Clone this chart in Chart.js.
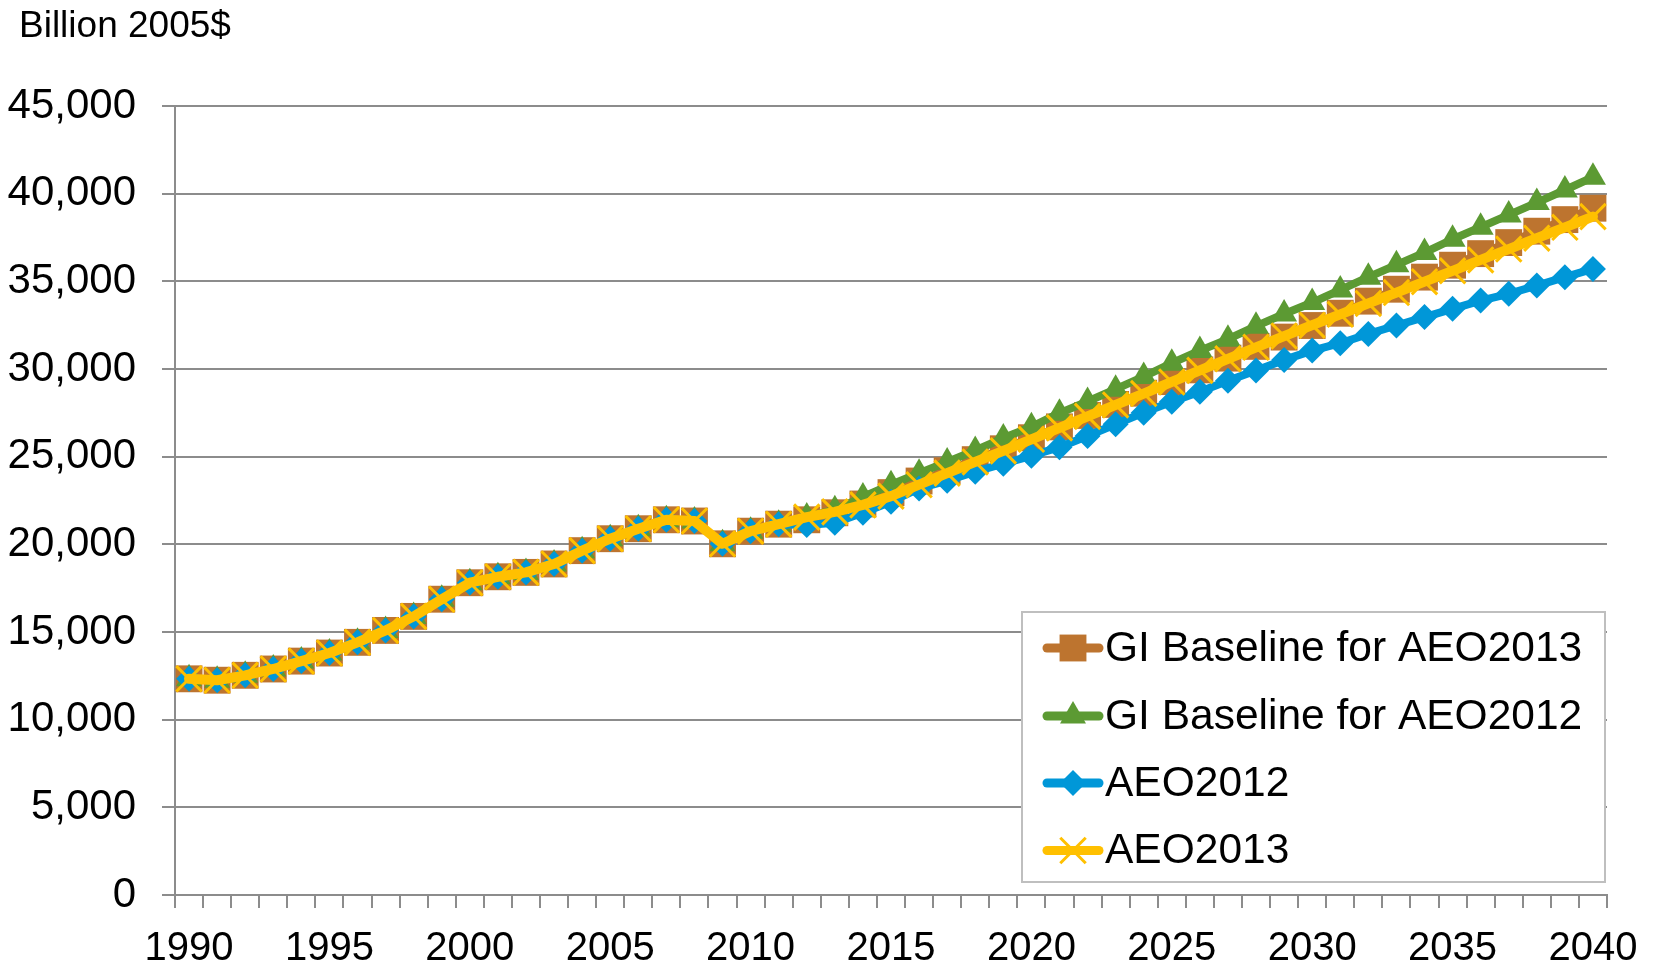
<!DOCTYPE html>
<html>
<head>
<meta charset="utf-8">
<script src="https://cdn.jsdelivr.net/npm/chart.js@4.4.0/dist/chart.umd.min.js"></script>
<style>
html,body{margin:0;padding:0;background:#fff;}
#wrap{width:1657px;height:968px;position:relative;}
</style>
</head>
<body>
<div id="wrap"><canvas id="c" width="1657" height="968"></canvas></div>
<script>
// ---- data ----
const years = [1990,1991,1992,1993,1994,1995,1996,1997,1998,1999,
               2000,2001,2002,2003,2004,2005,2006,2007,2008,2009,
               2010,2011,2012,2013,2014,2015,2016,2017,2018,2019,
               2020,2021,2022,2023,2024,2025,2026,2027,2028,2029,
               2030,2031,2032,2033,2034,2035,2036,2037,2038,2039,2040];
const labeledYears = [1990,1995,2000,2005,2010,2015,2020,2025,2030,2035,2040];
const yTickValues = [0,5000,10000,15000,20000,25000,30000,35000,40000,45000];
const unitLabel = 'Billion 2005$';
const seriesNames = ['GI Baseline for AEO2013','GI Baseline for AEO2012','AEO2012','AEO2013'];

const giBaselineAEO2013 = [12330,12250,12530,12890,13340,13800,14410,15090,15890,16870,
  17810,18150,18400,18880,19640,20320,20890,21400,21330,20030,
  20750,21150,21400,21800,22300,22950,23610,24200,24830,25450,
  26080,26700,27350,27980,28620,29280,29950,30620,31290,31820,
  32480,33180,33870,34550,35240,35920,36580,37210,37860,38520,39170];
const giBaselineAEO2012 = [12330,12250,12530,12890,13340,13800,14410,15090,15890,16870,
  17810,18150,18400,18880,19640,20320,20890,21400,21330,20030,
  20750,21150,21560,21970,22700,23400,24060,24700,25350,26060,
  26700,27480,28150,28850,29570,30330,31050,31700,32440,33140,
  33790,34510,35240,35940,36640,37400,38090,38790,39490,40210,40940];
const aeo2012 = [12330,12250,12530,12890,13340,13800,14410,15090,15890,16870,
  17810,18150,18400,18880,19640,20320,20890,21400,21330,20030,
  20750,21150,21100,21230,21800,22430,23190,23630,24140,24600,
  25050,25540,26180,26850,27510,28130,28700,29330,29920,30520,
  31050,31470,32000,32480,32960,33430,33900,34290,34760,35240,35710];
const aeo2013 = [12330,12250,12530,12890,13340,13800,14410,15090,15890,16870,
  17810,18150,18400,18880,19640,20320,20890,21400,21330,20030,
  20750,21150,21550,21850,22250,22750,23400,24060,24700,25330,
  25990,26640,27300,27950,28600,29260,29920,30580,31240,31880,
  32500,33120,33740,34360,34980,35600,36220,36840,37460,38080,38690];

// ---- styles ----
const FONT = '"Liberation Sans", Arial, Helvetica, sans-serif';
const GRID = '#8C8C8C';

function drawMarker(ctx, style, r, color, bw, x, y) {
  ctx.save();
  ctx.fillStyle = color; ctx.strokeStyle = color;
  ctx.beginPath();
  if (style === 'rect') {
    const s = Math.SQRT1_2 * r;
    ctx.rect(x - s, y - s, 2 * s, 2 * s); ctx.fill();
  } else if (style === 'rectRot') {
    ctx.moveTo(x, y - r); ctx.lineTo(x + r, y); ctx.lineTo(x, y + r); ctx.lineTo(x - r, y); ctx.closePath(); ctx.fill();
  } else if (style === 'triangle') {
    ctx.moveTo(x, y - r);
    ctx.lineTo(x + Math.sin(2*Math.PI/3) * r, y - Math.cos(2*Math.PI/3) * r);
    ctx.lineTo(x + Math.sin(4*Math.PI/3) * r, y - Math.cos(4*Math.PI/3) * r);
    ctx.closePath(); ctx.fill();
  } else if (style === 'crossRot') {
    const d = Math.SQRT1_2 * r;
    ctx.lineWidth = bw; ctx.lineCap = 'butt';
    ctx.moveTo(x - d, y - d); ctx.lineTo(x + d, y + d);
    ctx.moveTo(x - d, y + d); ctx.lineTo(x + d, y - d);
    ctx.stroke();
  }
  ctx.restore();
}

const overlay = {
  id: 'overlay',
  afterDraw(chart, args, opts) {
    const ctx = chart.ctx;
    ctx.save();
    ctx.fillStyle = '#000';
    ctx.font = '37px ' + FONT;
    ctx.textAlign = 'left';
    ctx.textBaseline = 'alphabetic';
    ctx.fillText(opts.title, 19, 37);

    const b = opts.box;
    ctx.fillStyle = '#fff';
    ctx.fillRect(b.left, b.top, b.right - b.left, b.bottom - b.top);
    ctx.strokeStyle = '#BFBFBF';
    ctx.lineWidth = 2;
    ctx.strokeRect(b.left, b.top, b.right - b.left, b.bottom - b.top);

    chart.data.datasets.forEach((ds, i) => {
      const y = opts.rows[i];
      ctx.strokeStyle = ds.borderColor;
      ctx.lineWidth = 9;
      ctx.lineCap = 'round';
      ctx.beginPath();
      ctx.moveTo(b.left + 25, y); ctx.lineTo(b.left + 77, y);
      ctx.stroke();
      drawMarker(ctx, ds.pointStyle, ds.pointRadius, ds.pointBackgroundColor, ds.pointBorderWidth, b.left + 51, y);
      ctx.fillStyle = '#000';
      ctx.font = '42.5px ' + FONT;
      ctx.textBaseline = 'middle';
      ctx.fillText(ds.label, b.left + 83, y + 1);
    });
    ctx.restore();
  }
};

const colors = ['#BD742F', '#5C9A33', '#0097D8', '#FFC000'];

new Chart(document.getElementById('c'), {
  type: 'line',
  data: {
    labels: years,
    datasets: [
      { label: seriesNames[0], data: giBaselineAEO2013, order: 3,
        borderColor: colors[0], borderWidth: 8, pointStyle: 'rect', pointRadius: 19,
        pointBackgroundColor: colors[0], pointBorderColor: colors[0], pointBorderWidth: 0 },
      { label: seriesNames[1], data: giBaselineAEO2012, order: 2,
        borderColor: colors[1], borderWidth: 8, pointStyle: 'triangle', pointRadius: 15,
        pointBackgroundColor: colors[1], pointBorderColor: colors[1], pointBorderWidth: 0 },
      { label: seriesNames[2], data: aeo2012, order: 1,
        borderColor: colors[2], borderWidth: 8, pointStyle: 'rectRot', pointRadius: 13,
        pointBackgroundColor: colors[2], pointBorderColor: colors[2], pointBorderWidth: 0 },
      { label: seriesNames[3], data: aeo2013, order: 0,
        borderColor: colors[3], borderWidth: 10, pointStyle: 'crossRot', pointRadius: 18,
        pointBackgroundColor: colors[3], pointBorderColor: colors[3], pointBorderWidth: 3 }
    ]
  },
  options: {
    responsive: false,
    animation: false,
    devicePixelRatio: 1,
    layout: { padding: { top: 106, right: 50, bottom: 0, left: 0 } },
    elements: { line: { tension: 0, borderJoinStyle: 'round', borderCapStyle: 'round' } },
    plugins: {
      legend: { display: false },
      tooltip: { enabled: false },
      overlay: {
        title: unitLabel,
        box: { left: 1022, top: 612, right: 1605, bottom: 882 },
        rows: [648, 716, 783, 850.5]
      }
    },
    scales: {
      x: {
        type: 'category',
        offset: true,
        afterFit(s) { s.height = 73; },
        grid: { offset: true, drawOnChartArea: false, drawTicks: true, tickLength: 13, color: GRID, lineWidth: 2 },
        border: { display: true, color: GRID, width: 2 },
        ticks: {
          autoSkip: false, maxRotation: 0, minRotation: 0, padding: 17,
          color: '#000', font: { family: FONT, size: 40 },
          callback(v, i) { const yr = years[i]; return labeledYears.includes(yr) ? String(yr) : ''; }
        }
      },
      y: {
        min: yTickValues[0], max: yTickValues[yTickValues.length - 1],
        afterFit(s) { s.width = 175; },
        afterBuildTicks(s) { s.ticks = yTickValues.map(v => ({ value: v })); },
        grid: { drawTicks: true, tickLength: 13, color: GRID, lineWidth: 2 },
        border: { display: true, color: GRID, width: 2 },
        ticks: {
          padding: 26, color: '#000', font: { family: FONT, size: 42 },
          callback(v) { return v.toLocaleString('en-US'); }
        }
      }
    }
  },
  plugins: [overlay]
});
</script>
</body>
</html>
